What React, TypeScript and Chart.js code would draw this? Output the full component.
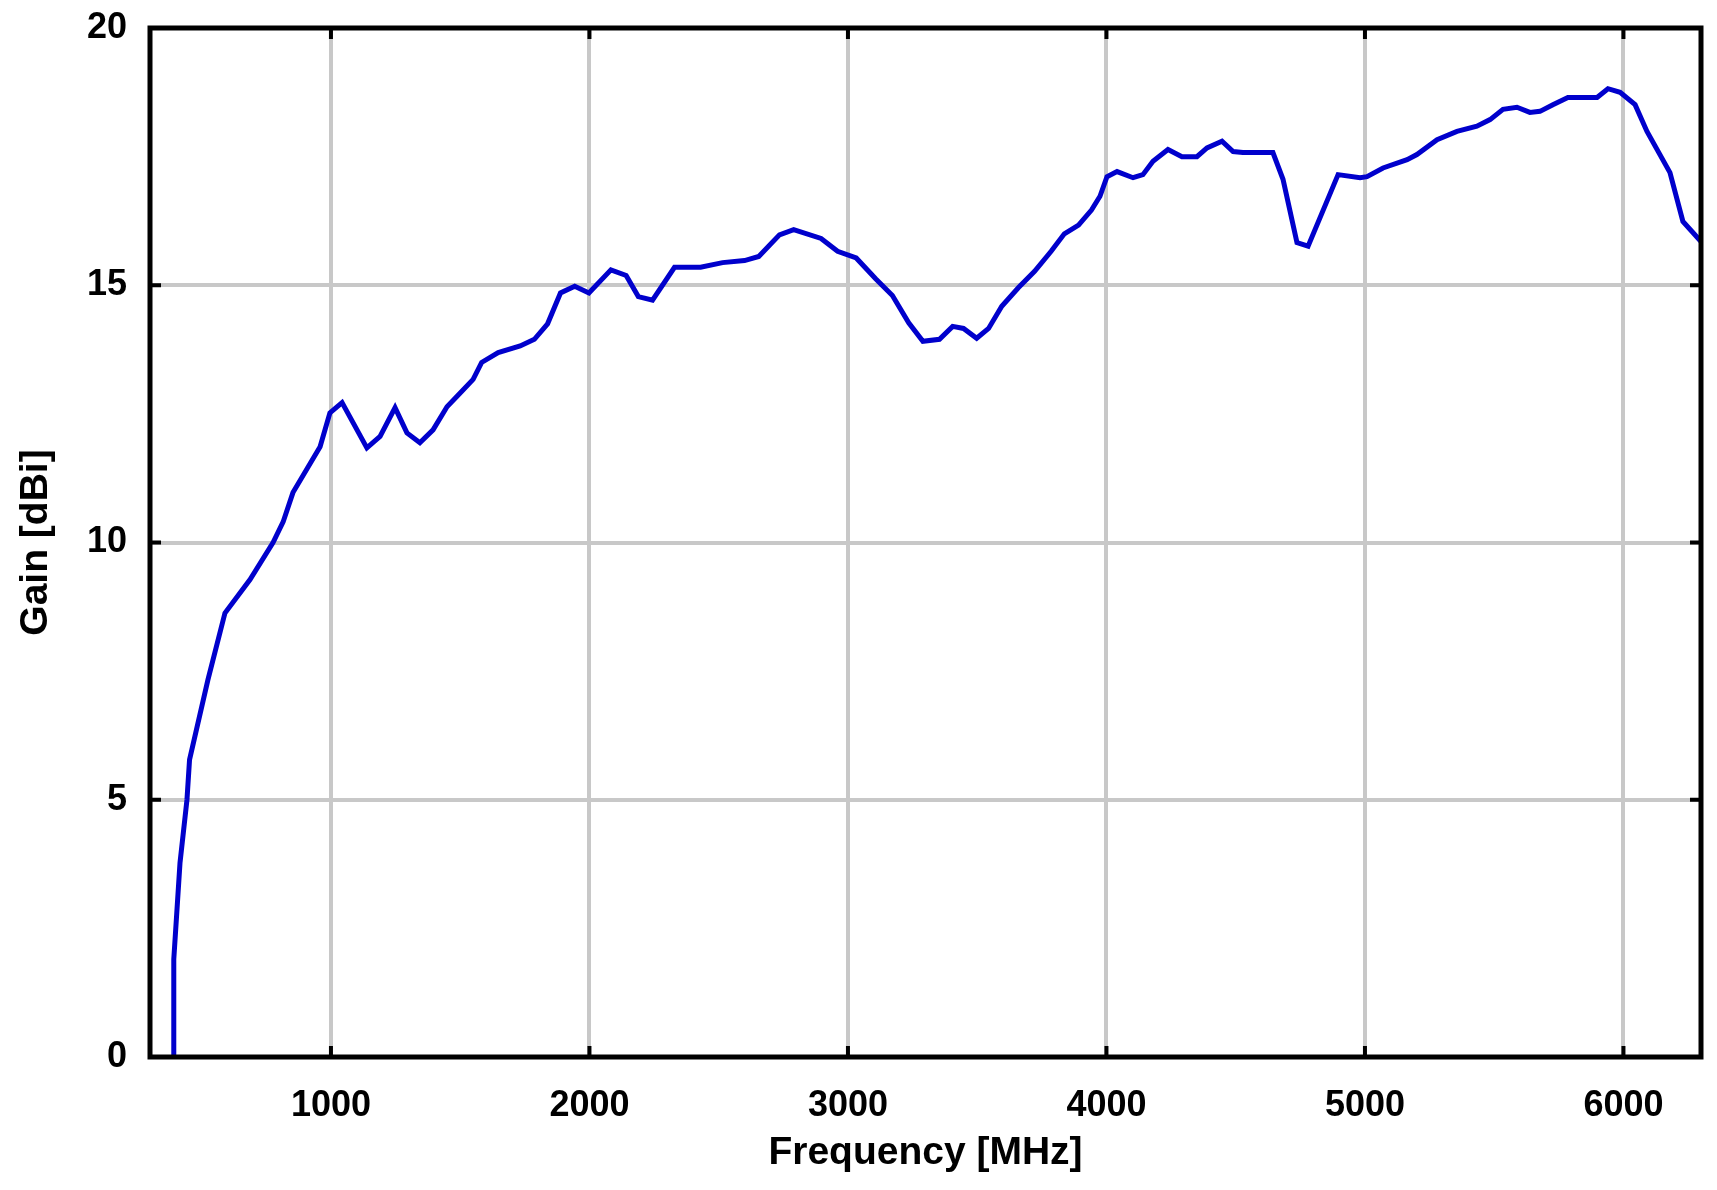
import React, { useEffect, useRef } from "react";
import { Chart, registerables } from "chart.js";

Chart.register(...registerables);

// Frequency [MHz]
const freqMHz: number[] = [
  390, 392, 416, 443, 453, 524, 590, 687, 776, 815, 853, 958, 996, 1043, 1139, 1190,
  1248, 1294, 1344, 1395, 1449, 1499, 1550, 1583, 1647, 1732, 1787, 1838, 1888, 1943,
  1998, 2083, 2142, 2189, 2244, 2329, 2430, 2515, 2600, 2655, 2735, 2790, 2896, 2960,
  3032, 3108, 3172, 3235, 3290, 3354, 3405, 3447, 3498, 3544, 3595, 3659, 3722, 3786,
  3837, 3892, 3942, 3975, 4002, 4041, 4103, 4141, 4180, 4238, 4292, 4350, 4389, 4447,
  4490, 4528, 4644, 4683, 4737, 4780, 4896, 4981, 5008, 5070, 5163, 5201, 5279, 5356,
  5433, 5484, 5534, 5588, 5638, 5677, 5727, 5785, 5898, 5940, 5987, 6045, 6091, 6180,
  6230, 6300,
];

// Gain [dBi]
const gainDbi: number[] = [
  0, 1.9, 3.77, 5.0, 5.78, 7.33, 8.63, 9.28, 10.0, 10.4, 10.97, 11.86, 12.52, 12.72, 11.84, 12.06,
  12.62, 12.13, 11.94, 12.19, 12.64, 12.9, 13.17, 13.5, 13.69, 13.82, 13.95, 14.25, 14.85, 14.98,
  14.85, 15.3, 15.19, 14.78, 14.71, 15.35, 15.35, 15.44, 15.48, 15.56, 15.98, 16.08, 15.91, 15.66,
  15.53, 15.12, 14.8, 14.27, 13.91, 13.95, 14.2, 14.16, 13.97, 14.16, 14.59, 14.95, 15.27, 15.66,
  16.0, 16.17, 16.46, 16.73, 17.11, 17.21, 17.09, 17.15, 17.41, 17.64, 17.5, 17.5, 17.67, 17.8,
  17.6, 17.58, 17.58, 17.06, 15.83, 15.76, 17.15, 17.09, 17.11, 17.28, 17.44, 17.54, 17.83, 17.99,
  18.09, 18.22, 18.42, 18.46, 18.36, 18.38, 18.51, 18.65, 18.65, 18.82, 18.75, 18.51, 17.99, 17.19,
  16.24, 15.85,
];

const xTicks: number[] = [1000, 2000, 3000, 4000, 5000, 6000];
const yTicks: number[] = [0, 5, 10, 15, 20];
const xRange: number[] = [300, 6300];
const yRange: number[] = [0, 20];
const xTitle = "Frequency [MHz]";
const yTitle = "Gain [dBi]";

const FONT = "'Liberation Sans', Arial, sans-serif";

const framePlugin = {
  id: "frame",
  afterDraw(chart: any) {
    const { ctx, chartArea, scales } = chart;
    const { left, right, top, bottom } = chartArea;
    ctx.save();
    ctx.strokeStyle = "#000";
    ctx.lineWidth = 4;
    const tl = 11;
    ctx.beginPath();
    for (const v of xTicks) {
      const px = scales.x.getPixelForValue(v);
      ctx.moveTo(px, bottom);
      ctx.lineTo(px, bottom - tl);
      ctx.moveTo(px, top);
      ctx.lineTo(px, top + tl);
    }
    for (const v of yTicks) {
      const py = scales.y.getPixelForValue(v);
      ctx.moveTo(left, py);
      ctx.lineTo(left + tl, py);
      ctx.moveTo(right, py);
      ctx.lineTo(right - tl, py);
    }
    ctx.stroke();
    ctx.lineWidth = 5;
    ctx.strokeRect(left, top, right - left, bottom - top);
    ctx.restore();
  },
};

export default function App() {
  const canvasRef = useRef<HTMLCanvasElement | null>(null);

  useEffect(() => {
    document.body.style.margin = "0";
    document.body.style.overflow = "hidden";
    const canvas = canvasRef.current;
    if (!canvas) return;
    const points = freqMHz.map((f, i) => ({ x: f, y: gainDbi[i] }));
    const chart = new Chart(canvas, {
      type: "line",
      data: {
        datasets: [
          {
            data: points,
            borderColor: "#0000cc",
            borderWidth: 5,
            pointRadius: 0,
            tension: 0,
            fill: false,
          },
        ],
      },
      options: {
        animation: false,
        responsive: false,
        devicePixelRatio: 1,
        layout: { padding: { left: 0, top: 28, right: 16, bottom: 0 } },
        plugins: {
          legend: { display: false },
          tooltip: { enabled: false },
        },
        scales: {
          x: {
            type: "linear",
            min: xRange[0],
            max: xRange[1],
            afterFit: (s: any) => {
              s.height = 133;
              s.paddingLeft = 0;
              s.paddingRight = 0;
            },
            afterBuildTicks: (s: any) => {
              s.ticks = xTicks.map((v) => ({ value: v }));
            },
            ticks: {
              autoSkip: false,
              maxRotation: 0,
              padding: 27,
              color: "#000",
              font: { family: FONT, size: 36, weight: "bold" },
              callback: (v: any) => String(v),
            },
            grid: { color: "#c8c8c8", lineWidth: 4, drawTicks: false },
            border: { display: false },
            title: {
              display: true,
              text: xTitle,
              color: "#000",
              font: { family: FONT, size: 39, weight: "bold" },
              padding: { top: 0, bottom: 13 },
            },
          },
          y: {
            type: "linear",
            min: yRange[0],
            max: yRange[1],
            afterFit: (s: any) => {
              s.width = 150;
              s.paddingTop = 0;
              s.paddingBottom = 0;
            },
            afterBuildTicks: (s: any) => {
              s.ticks = yTicks.map((v) => ({ value: v }));
            },
            ticks: {
              padding: 23,
              color: "#000",
              font: { family: FONT, size: 36, weight: "bold" },
              callback: (v: any) => String(v),
            },
            grid: { color: "#c8c8c8", lineWidth: 4, drawTicks: false },
            border: { display: false },
            title: {
              display: true,
              text: yTitle,
              color: "#000",
              font: { family: FONT, size: 39, weight: "bold" },
              padding: { top: 13, bottom: 0 },
            },
          },
        },
      },
      plugins: [framePlugin],
    });
    return () => chart.destroy();
  }, []);

  return (
    <div style={{ width: 1717, height: 1190, background: "#fff" }}>
      <canvas ref={canvasRef} width={1717} height={1190} style={{ display: "block" }} />
    </div>
  );
}
